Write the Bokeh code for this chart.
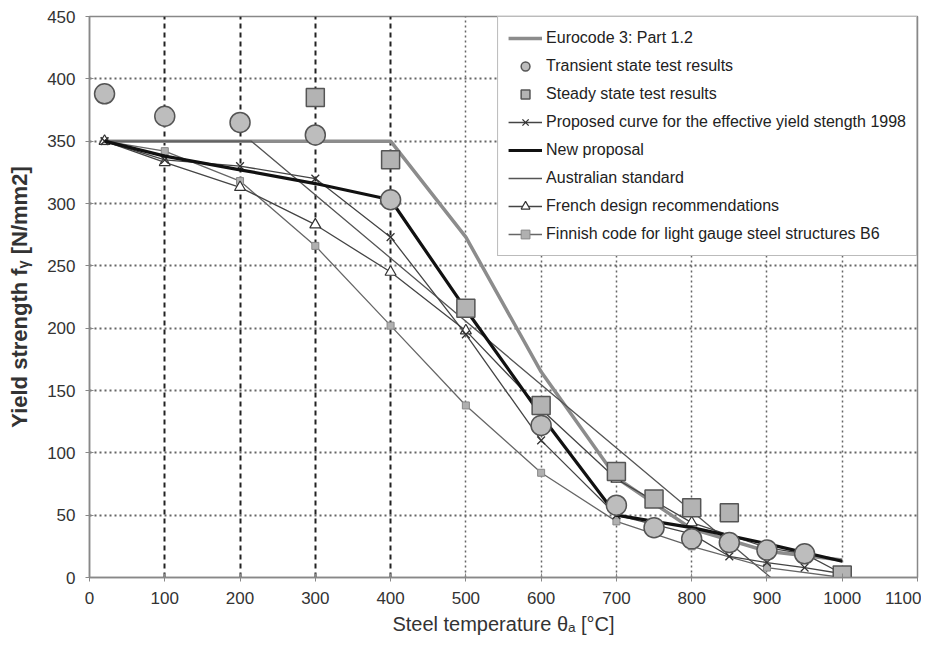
from bokeh.plotting import figure
from bokeh.models import Range1d, FixedTicker, Grid, Legend, LegendItem
from bokeh.embed import file_html
from bokeh.resources import INLINE

# Data
eur_t = [20, 400, 500, 600, 700, 800, 900, 1000]
eur_f = [350, 350, 273, 165, 80, 39, 21, 14]

trans_t = [20, 100, 200, 300, 400, 600, 700, 750, 800, 850, 900, 950]
trans_f = [388, 370, 365, 355, 303, 122, 58, 40, 31, 28, 22, 19]

steady_t = [300, 400, 500, 600, 700, 750, 800, 850, 1000]
steady_f = [385, 335, 216, 138, 85, 63, 56, 52, 2]

prop_t = [20, 100, 200, 300, 400, 500, 600, 700, 800, 850, 900, 950, 1000]
prop_f = [350, 335, 330, 320, 273, 195, 110, 50, 35, 17, 12, 8, 3]

new_t = [20, 100, 200, 300, 400, 500, 600, 700, 800, 900, 1000]
new_f = [350, 338, 327, 316, 303, 215, 130, 50, 40, 27, 13]

aus_t = [20, 215, 905]
aus_f = [350, 350, 0]

fr_t = [20, 100, 200, 300, 400, 500, 600, 700, 800, 900, 950, 1000]
fr_f = [350, 333, 313, 283, 245, 198, 135, 79, 44, 24, 19, 3]

fin_t = [20, 100, 200, 300, 400, 500, 600, 700, 800, 900, 1000]
fin_f = [350, 342, 318, 266, 202, 138, 84, 45, 25, 8, 0]

x_ticks = list(range(0, 1101, 100))
y_ticks = list(range(0, 451, 50))
dark_grid_x = [100, 200, 300, 400]
light_grid_x = [500, 600, 700, 800, 900, 1000]

FONT = "Liberation Sans"

p = figure(width=921, height=640, output_backend="svg", toolbar_location=None,
           x_range=Range1d(0, 1100), y_range=Range1d(0, 450),
           min_border_left=89, min_border_right=4, min_border_top=16, min_border_bottom=63)
p.background_fill_color = "white"
p.outline_line_color = "#888888"
p.outline_line_width = 1.5

# axes
p.xaxis.ticker = FixedTicker(ticks=x_ticks)
p.yaxis.ticker = FixedTicker(ticks=y_ticks)
for ax in (p.xaxis[0], p.yaxis[0]):
    ax.axis_line_color = "#888888"
    ax.axis_line_width = 1.5
    ax.major_tick_line_color = "#888888"
    ax.major_tick_out = 4
    ax.major_tick_in = 4
    ax.minor_tick_line_color = None
    ax.major_label_text_font = FONT
    ax.major_label_text_font_size = "17px"
    ax.major_label_text_color = "#333333"
    ax.axis_label_text_font = FONT
    ax.axis_label_text_color = "#333333"
p.xaxis.axis_label = "Steel temperature θₐ [°C]"
p.xaxis.axis_label_text_font_style = "normal"
p.xaxis.axis_label_text_font_size = "20px"
p.xaxis.axis_label_standoff = 6
p.xaxis.major_label_standoff = 10
p.yaxis.axis_label = "Yield strength fᵧ [N/mm2]"
p.yaxis.axis_label_text_font_style = "bold"
p.yaxis.axis_label_text_font_size = "22px"
p.yaxis.axis_label_standoff = 12
p.yaxis.major_label_standoff = 10

# grids
p.xgrid.ticker = FixedTicker(ticks=light_grid_x)
p.xgrid.grid_line_color = "#666666"
p.xgrid.grid_line_dash = "2 3"
p.xgrid.grid_line_width = 1.5
p.ygrid.ticker = FixedTicker(ticks=y_ticks[1:-1])
p.ygrid.grid_line_color = "#666666"
p.ygrid.grid_line_dash = "2 3"
p.ygrid.grid_line_width = 2
dg = Grid(dimension=0, ticker=FixedTicker(ticks=dark_grid_x),
          grid_line_color="#222222", grid_line_dash="5 4", grid_line_width=2)
p.add_layout(dg)

r_eur = p.line(eur_t, eur_f, line_color="#8c8c8c", line_width=3.5)

r_aus = p.line(aus_t, aus_f, line_color="#555555", line_width=1.3)

r_fin_l = p.line(fin_t, fin_f, line_color="#666666", line_width=1.3)
r_fin_m = p.scatter(fin_t, fin_f, marker="square", size=7, fill_color="#b0b0b0", line_color="#888888")

r_fr_l = p.line(fr_t, fr_f, line_color="#444444", line_width=1.3)
r_fr_m = p.scatter(fr_t, fr_f, marker="triangle", size=11, fill_color="white", line_color="#333333", line_width=1.2)

r_prop_l = p.line(prop_t, prop_f, line_color="#444444", line_width=1.3)
r_prop_m = p.scatter(prop_t, prop_f, marker="x", size=11, line_color="#333333", line_width=1.3)

r_new = p.line(new_t, new_f, line_color="#111111", line_width=3.2)

r_trans = p.scatter(trans_t, trans_f, marker="circle", size=20, fill_color="#bdbdbd", line_color="#555555", line_width=1.5)
r_steady = p.scatter(steady_t, steady_f, marker="square", size=18, fill_color="#b3b3b3", line_color="#555555", line_width=1.5)

legend = Legend(items=[
    LegendItem(label="Eurocode 3: Part 1.2", renderers=[r_eur]),
    LegendItem(label="Transient state test results", renderers=[r_trans]),
    LegendItem(label="Steady state test results", renderers=[r_steady]),
    LegendItem(label="Proposed curve for the effective yield stength 1998", renderers=[r_prop_l, r_prop_m]),
    LegendItem(label="New proposal", renderers=[r_new]),
    LegendItem(label="Australian standard", renderers=[r_aus]),
    LegendItem(label="French design recommendations", renderers=[r_fr_l, r_fr_m]),
    LegendItem(label="Finnish code for light gauge steel structures B6", renderers=[r_fin_l, r_fin_m]),
], location="top_right")
legend.label_text_font = FONT
legend.label_text_font_size = "16px"
legend.label_text_color = "#222222"
legend.label_height = 22
legend.glyph_height = 22
legend.glyph_width = 34
legend.label_standoff = 4
legend.spacing = 6
legend.padding = 10
legend.margin = 0
legend.border_line_color = "#777777"
legend.border_line_width = 1.5
legend.background_fill_alpha = 1
p.add_layout(legend)

open("out.html", "w").write(file_html(p, INLINE))
